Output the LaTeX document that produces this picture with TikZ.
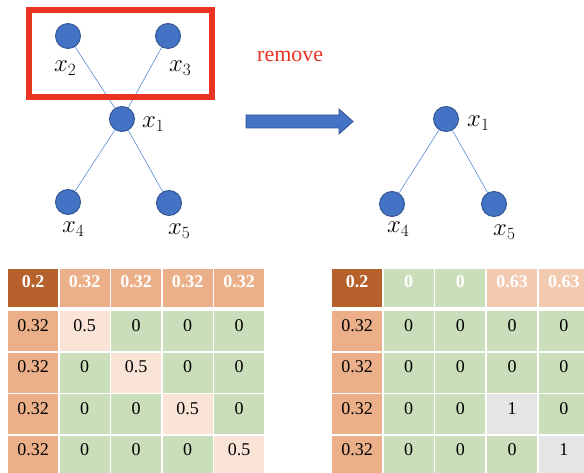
\documentclass[tikz,border=0pt]{standalone}
\usepackage[no-math]{fontspec}
\setmainfont{Liberation Serif}
\usetikzlibrary{calc}

\definecolor{nodeblue}{HTML}{4472C4}
\definecolor{nodeedge}{HTML}{2F528F}
\definecolor{linkblue}{HTML}{5A88D4}
\definecolor{boxred}{HTML}{EA3323}
\definecolor{cdark}{HTML}{B6602B}
\definecolor{corange}{HTML}{EBB089}
\definecolor{cpeach}{HTML}{F2CAAF}
\definecolor{clight}{HTML}{F9E4D7}
\definecolor{cgreen}{HTML}{CADEBB}
\definecolor{cgray}{HTML}{E5E5E5}

\tikzset{
  vertex/.style={circle, fill=nodeblue, draw=nodeedge, line width=0.9bp,
    minimum size=25bp, inner sep=0pt},
  link/.style={draw=linkblue, line width=0.6bp},
  vlabel/.style={anchor=base west, inner sep=0pt, font=\fontsize{24bp}{28bp}\selectfont},
  cell/.style={rectangle, inner sep=0pt, minimum width=50bp, minimum height=40bp,
    text height=8bp, text depth=8bp, font=\fontsize{18bp}{21bp}\selectfont},
  headcell/.style={cell, minimum height=38bp, text=white,
    font=\fontsize{18bp}{21bp}\selectfont\bfseries},
}

\begin{document}
\begin{tikzpicture}[x=1bp, y=-1bp]
  \useasboundingbox (0,0) rectangle (584,473);
  \clip (0,0) rectangle (584,473);

  % ---- graph before removal ----
  \node[vertex] (a2) at (68,36) {};
  \node[vertex] (a3) at (168,36) {};
  \node[vertex] (a1) at (122,119) {};
  \node[vertex] (a4) at (68,202) {};
  \node[vertex] (a5) at (169,203) {};
  \draw[link] (a2) -- (a1);
  \draw[link] (a3) -- (a1);
  \draw[link] (a1) -- (a4);
  \draw[link] (a1) -- (a5);

  \node[vlabel] (la2) at (54,72) {$x_2$};
  \node[vlabel] (la3) at (169,72) {$x_3$};
  \node[vlabel] (la1) at (142,128) {$x_1$};
  \node[vlabel] (la4) at (62,233) {$x_4$};
  \node[vlabel] (la5) at (168,235) {$x_5$};

  % nodes selected for removal
  \draw[boxred, line width=6bp] (29,10) rectangle (212,97);
  \node[anchor=base west, inner sep=0pt, text=boxred,
        font=\fontsize{22bp}{26bp}\selectfont] (rm) at (257,62) {remove};

  % ---- block arrow ----
  \draw[fill=nodeblue, draw=nodeedge, line width=0.8bp]
    (246,115) -- (339,115) -- (339,109) -- (353,121.5) -- (339,134)
    -- (339,128) -- (246,128) -- cycle;

  % ---- graph after removal ----
  \node[vertex] (b1) at (446,119) {};
  \node[vertex] (b4) at (392,204) {};
  \node[vertex] (b5) at (494,204) {};
  \draw[link] (b1) -- (b4);
  \draw[link] (b1) -- (b5);
  \node[vlabel] (lb1) at (467,127) {$x_1$};
  \node[vlabel] (lb4) at (387,233) {$x_4$};
  \node[vlabel] (lb5) at (493,236) {$x_5$};

  % ---- left table ----
  \foreach \c/\t/\f in {0/0.2/cdark, 1/0.32/corange, 2/0.32/corange,
                        3/0.32/corange, 4/0.32/corange}
    \node[headcell, fill=\f] (L-0-\c) at ({33+51.5*\c},288) {\t};
  \foreach \r in {1,...,4} {
    \node[cell, fill=corange] (L-\r-0) at (33,{289.5+41.5*\r}) {0.32};
    \foreach \c in {1,...,4} {
      \ifnum\c=\r \def\f{clight}\def\t{0.5}\else\def\f{cgreen}\def\t{0}\fi
      \node[cell, fill=\f] (L-\r-\c) at ({33+51.5*\c},{289.5+41.5*\r}) {\t};
    }
  }

  % ---- right table ----
  \foreach \c/\t/\f in {0/0.2/cdark, 1/0/cgreen, 2/0/cgreen,
                        3/0.63/cpeach, 4/0.63/cpeach}
    \node[headcell, fill=\f] (R-0-\c) at ({357+51.7*\c},288) {\t};
  \foreach \r in {1,...,4} {
    \node[cell, fill=corange] (R-\r-0) at (357,{289.5+41.5*\r}) {0.32};
    \foreach \c in {1,...,4} {
      \def\f{cgreen}\def\t{0}%
      \ifnum\r>2 \ifnum\c=\r \def\f{cgray}\def\t{1}\fi\fi
      \node[cell, fill=\f] (R-\r-\c) at ({357+51.7*\c},{289.5+41.5*\r}) {\t};
    }
  }
\end{tikzpicture}
\end{document}
